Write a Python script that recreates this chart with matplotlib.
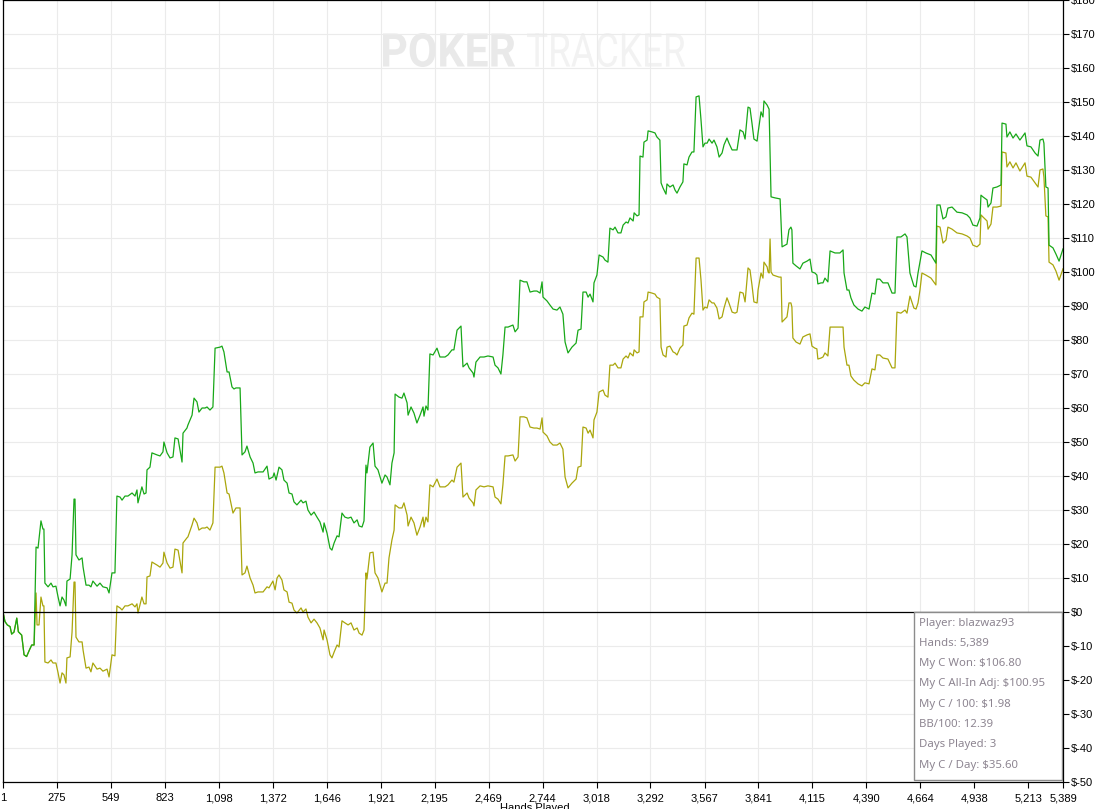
import matplotlib
matplotlib.use("Agg")
import matplotlib.pyplot as plt
from matplotlib.ticker import FuncFormatter
from matplotlib.patches import Rectangle, PathPatch
from matplotlib.textpath import TextPath
from matplotlib.font_manager import FontProperties
from matplotlib.transforms import Affine2D

# "My C Won" (green) - hand number, cumulative winnings in $
won_hands = [
    1, 11, 23, 37, 45, 57, 71, 79, 96, 108, 121, 135, 147, 159, 169, 179, 194, 204, 209, 214,
    230, 245, 255, 270, 281, 291, 301, 311, 321, 326, 342, 352, 362, 367, 372, 387, 403, 408, 423, 438,
    448, 458, 479, 494, 509, 530, 540, 555, 570, 580, 596, 606, 621, 636, 657, 672, 682, 687, 707, 718,
    728, 733, 748, 758, 784, 799, 814, 819, 835, 850, 865, 875, 891, 911, 916, 936, 941, 962, 972, 987,
    997, 1013, 1028, 1038, 1053, 1068, 1079, 1104, 1114, 1124, 1140, 1150, 1165, 1175, 1185, 1206, 1216, 1231, 1241, 1257,
    1272, 1282, 1297, 1307, 1323, 1343, 1353, 1373, 1379, 1389, 1404, 1419, 1429, 1445, 1455, 1470, 1480, 1495, 1516, 1526,
    1541, 1551, 1567, 1582, 1597, 1612, 1628, 1633, 1648, 1663, 1673, 1684, 1699, 1709, 1724, 1739, 1755, 1770, 1785, 1801,
    1811, 1826, 1836, 1846, 1851, 1866, 1882, 1892, 1907, 1927, 1943, 1953, 1968, 1978, 1989, 1994, 2014, 2029, 2039, 2055,
    2060, 2075, 2090, 2105, 2121, 2136, 2141, 2151, 2161, 2171, 2187, 2207, 2222, 2248, 2263, 2283, 2293, 2309, 2329, 2339,
    2360, 2370, 2390, 2395, 2405, 2426, 2446, 2466, 2492, 2502, 2517, 2532, 2542, 2553, 2568, 2593, 2604, 2619, 2629, 2649,
    2664, 2680, 2700, 2715, 2731, 2741, 2746, 2766, 2781, 2797, 2817, 2832, 2847, 2858, 2873, 2893, 2914, 2924, 2939, 2949,
    2965, 2975, 2985, 3000, 3005, 3020, 3031, 3051, 3061, 3076, 3086, 3102, 3112, 3127, 3142, 3153, 3168, 3178, 3188, 3204,
    3209, 3224, 3234, 3239, 3254, 3259, 3275, 3280, 3300, 3315, 3325, 3340, 3346, 3356, 3371, 3376, 3391, 3407, 3417, 3427,
    3442, 3457, 3462, 3478, 3488, 3503, 3513, 3524, 3539, 3549, 3559, 3569, 3580, 3590, 3605, 3615, 3630, 3641, 3656, 3666,
    3681, 3691, 3707, 3722, 3732, 3747, 3763, 3773, 3788, 3798, 3808, 3818, 3834, 3839, 3854, 3864, 3869, 3885, 3895, 3905,
    3925, 3951, 3961, 3976, 3986, 3996, 4006, 4011, 4016, 4032, 4052, 4067, 4088, 4103, 4113, 4128, 4138, 4143, 4159, 4169,
    4179, 4194, 4205, 4230, 4255, 4271, 4276, 4291, 4301, 4311, 4326, 4347, 4367, 4382, 4403, 4418, 4433, 4443, 4458, 4474,
    4499, 4520, 4535, 4545, 4565, 4586, 4596, 4611, 4631, 4642, 4652, 4672, 4692, 4718, 4743, 4748, 4764, 4779, 4794, 4804,
    4825, 4850, 4876, 4901, 4916, 4931, 4952, 4967, 4972, 4982, 5003, 5008, 5023, 5033, 5053, 5074, 5079, 5099, 5104, 5119,
    5135, 5150, 5170, 5196, 5206, 5226, 5247, 5262, 5272, 5287, 5292, 5302, 5313, 5318, 5338, 5353, 5369, 5389,
]
won_vals = [
    0.0, -2.8, -3.8, -4.3, -6.5, -5.9, -1.8, -5.8, -6.8, -12.6, -13.1, -11.2, -9.7, -9.7, 19.1, 18.8, 26.8, 24.4, 24.4, 8.5,
    7.4, 8.5, 7.4, 7.6, 4.4, 1.8, 4.4, 3.5, 1.8, 9.1, 9.7, 16.8, 33.2, 33.2, 16.8, 15.3, 15.9, 13.2, 7.9, 7.9,
    7.4, 9.1, 7.6, 8.5, 7.4, 7.1, 5.6, 11.5, 11.5, 34.1, 33.8, 32.9, 34.1, 34.1, 35.0, 34.1, 35.9, 32.1, 36.8, 34.7,
    35.0, 41.8, 42.6, 46.8, 46.2, 45.9, 47.1, 50.0, 46.8, 45.3, 45.6, 51.2, 50.9, 44.1, 52.6, 54.1, 55.0, 57.9, 62.9, 61.8,
    58.8, 60.0, 60.0, 60.3, 59.4, 60.3, 77.6, 77.9, 78.2, 76.5, 70.6, 70.6, 66.2, 65.6, 65.9, 65.9, 46.2, 47.1, 48.8, 45.6,
    43.8, 40.9, 41.2, 41.2, 41.2, 42.9, 39.1, 39.7, 40.9, 38.8, 42.6, 41.8, 38.8, 37.9, 35.0, 34.7, 32.4, 31.5, 32.9, 32.1,
    32.6, 30.0, 28.5, 29.4, 27.9, 26.5, 23.5, 26.2, 23.2, 18.8, 18.2, 20.3, 22.4, 22.1, 29.1, 27.9, 27.6, 27.9, 26.2, 27.1,
    25.3, 25.0, 26.8, 43.2, 40.9, 48.5, 49.7, 42.9, 41.8, 37.9, 40.3, 39.7, 37.4, 43.8, 46.8, 64.1, 63.2, 62.9, 64.4, 61.5,
    57.9, 60.3, 58.5, 55.6, 57.9, 60.3, 57.6, 60.6, 59.4, 75.9, 75.6, 77.6, 75.0, 75.0, 75.6, 77.1, 77.1, 82.9, 84.1, 72.1,
    73.2, 71.8, 70.3, 69.1, 73.5, 75.0, 75.0, 75.3, 75.0, 72.6, 71.8, 70.0, 75.6, 83.8, 83.8, 84.4, 82.4, 83.5, 97.6, 97.1,
    97.1, 94.1, 94.4, 94.4, 93.8, 97.1, 92.6, 91.5, 90.3, 89.1, 88.8, 89.7, 87.6, 79.4, 76.2, 77.9, 79.1, 82.9, 83.2, 94.1,
    94.1, 92.6, 93.5, 91.2, 96.8, 99.1, 105.0, 104.4, 103.5, 102.9, 112.9, 112.4, 113.2, 111.5, 111.5, 113.8, 114.7, 114.4, 115.9, 115.0,
    117.4, 116.5, 116.8, 134.1, 133.8, 138.2, 138.8, 141.5, 141.2, 140.9, 139.7, 138.8, 126.2, 124.7, 122.9, 125.9, 125.0, 125.6, 124.1, 123.2,
    125.0, 126.5, 131.8, 131.5, 133.8, 135.3, 135.3, 151.5, 151.8, 144.7, 136.8, 137.9, 137.9, 139.1, 137.9, 138.8, 136.8, 133.8, 135.0, 137.4,
    139.4, 137.9, 135.9, 135.9, 135.9, 141.8, 141.2, 139.1, 148.5, 148.2, 143.8, 139.1, 138.5, 140.9, 147.1, 145.6, 150.3, 149.1, 147.9, 122.1,
    121.8, 121.5, 107.4, 107.9, 108.2, 112.4, 113.2, 112.4, 102.6, 101.8, 100.9, 102.6, 103.2, 103.8, 100.0, 99.7, 99.1, 96.5, 96.8, 96.8,
    98.2, 97.1, 106.2, 105.6, 105.6, 106.5, 99.7, 94.7, 94.7, 92.4, 90.3, 89.1, 88.5, 89.7, 89.1, 93.8, 93.5, 97.9, 97.9, 96.8,
    96.8, 93.8, 93.8, 110.3, 110.3, 111.2, 110.3, 99.7, 95.9, 95.6, 99.7, 106.2, 105.6, 105.0, 102.6, 119.7, 119.7, 115.6, 116.2, 118.8,
    119.1, 117.6, 117.4, 116.8, 115.9, 113.8, 113.5, 115.9, 122.6, 122.1, 121.2, 119.1, 120.3, 124.7, 125.0, 125.6, 143.8, 143.5, 139.7, 141.2,
    139.4, 140.6, 138.8, 140.9, 137.1, 136.8, 135.0, 134.1, 138.8, 139.1, 137.9, 125.0, 124.7, 107.9, 107.1, 105.3, 103.2, 106.8,
]

# "My C All-In Adj" (olive) - hand number, all-in adjusted winnings in $
adj_hands = [
    1, 11, 23, 37, 45, 57, 71, 79, 96, 108, 121, 135, 147, 159, 169, 174, 184, 194, 204, 209,
    214, 230, 245, 255, 270, 281, 291, 301, 311, 321, 326, 342, 352, 362, 367, 372, 387, 403, 408, 423,
    438, 448, 458, 479, 494, 509, 530, 540, 555, 570, 580, 596, 606, 621, 636, 657, 672, 682, 687, 707,
    718, 728, 733, 748, 758, 784, 799, 814, 819, 835, 850, 865, 875, 891, 911, 916, 936, 941, 962, 972,
    987, 997, 1013, 1028, 1038, 1053, 1068, 1079, 1104, 1114, 1124, 1140, 1150, 1165, 1170, 1185, 1206, 1216, 1231, 1241,
    1257, 1272, 1282, 1297, 1307, 1323, 1343, 1353, 1373, 1384, 1394, 1404, 1419, 1429, 1445, 1455, 1470, 1480, 1495, 1516,
    1526, 1541, 1551, 1567, 1582, 1597, 1612, 1628, 1633, 1648, 1663, 1673, 1684, 1699, 1709, 1724, 1739, 1755, 1770, 1785,
    1801, 1811, 1826, 1836, 1846, 1851, 1866, 1882, 1892, 1907, 1927, 1943, 1953, 1963, 1978, 1989, 1994, 2014, 2029, 2039,
    2055, 2060, 2075, 2090, 2105, 2121, 2136, 2141, 2151, 2161, 2171, 2187, 2207, 2222, 2248, 2263, 2283, 2293, 2309, 2329,
    2339, 2360, 2370, 2390, 2395, 2405, 2426, 2446, 2466, 2492, 2502, 2517, 2532, 2542, 2553, 2568, 2593, 2604, 2619, 2629,
    2649, 2664, 2680, 2700, 2715, 2731, 2741, 2746, 2766, 2781, 2797, 2817, 2832, 2847, 2858, 2873, 2893, 2914, 2924, 2939,
    2949, 2965, 2975, 2985, 3000, 3005, 3020, 3031, 3051, 3061, 3076, 3086, 3102, 3112, 3127, 3142, 3153, 3168, 3178, 3188,
    3204, 3209, 3224, 3234, 3239, 3254, 3259, 3275, 3280, 3300, 3315, 3325, 3340, 3346, 3356, 3371, 3376, 3391, 3407, 3417,
    3427, 3442, 3457, 3462, 3478, 3488, 3503, 3513, 3524, 3539, 3549, 3559, 3569, 3580, 3590, 3605, 3615, 3630, 3641, 3656,
    3666, 3681, 3691, 3707, 3722, 3732, 3747, 3763, 3773, 3788, 3798, 3808, 3818, 3834, 3839, 3854, 3864, 3869, 3885, 3890,
    3895, 3900, 3905, 3915, 3946, 3956, 3961, 3976, 3986, 3996, 4006, 4011, 4016, 4032, 4052, 4067, 4088, 4103, 4113, 4128,
    4138, 4143, 4159, 4169, 4179, 4194, 4205, 4230, 4255, 4271, 4276, 4291, 4301, 4311, 4326, 4347, 4367, 4382, 4403, 4418,
    4433, 4443, 4458, 4474, 4499, 4520, 4535, 4545, 4565, 4586, 4596, 4611, 4631, 4642, 4652, 4662, 4672, 4692, 4718, 4743,
    4748, 4764, 4779, 4794, 4804, 4825, 4850, 4876, 4901, 4916, 4931, 4952, 4967, 4972, 4982, 5003, 5008, 5023, 5033, 5053,
    5074, 5079, 5099, 5104, 5119, 5135, 5150, 5170, 5196, 5206, 5226, 5247, 5262, 5272, 5287, 5292, 5302, 5313, 5318, 5338,
    5353, 5369, 5389,
]
adj_vals = [
    0.0, -2.8, -3.8, -4.3, -6.5, -5.9, -1.8, -5.8, -6.8, -12.6, -13.1, -11.2, -9.7, -9.7, 5.6, -3.8, -3.8, 4.4, 1.8, 1.8,
    -14.7, -15.0, -14.1, -15.0, -15.0, -17.9, -20.9, -17.9, -18.5, -20.9, -13.5, -13.2, -5.9, 8.8, 8.8, -7.4, -8.8, -8.8, -11.2, -16.5,
    -16.2, -17.6, -15.0, -16.8, -16.5, -17.4, -16.8, -19.1, -12.6, -12.9, 1.8, 1.2, 0.6, 1.8, 1.8, 2.4, 1.5, 2.4, -0.3, 4.4,
    2.4, 2.4, 10.3, 10.6, 14.7, 13.8, 13.2, 14.4, 17.6, 14.4, 12.9, 13.2, 18.5, 18.2, 11.5, 20.3, 21.8, 22.1, 25.6, 27.6,
    26.2, 24.1, 24.7, 24.7, 25.0, 24.1, 26.2, 42.6, 42.6, 42.9, 40.9, 35.0, 34.7, 30.6, 29.1, 30.6, 30.6, 10.9, 11.5, 13.5,
    10.0, 7.9, 5.6, 5.9, 5.9, 5.9, 7.4, 7.1, 9.1, 6.5, 10.0, 10.9, 9.4, 6.5, 5.9, 2.9, 2.6, 0.6, -0.3, 1.2,
    0.0, 0.9, -1.5, -3.2, -2.1, -3.2, -4.7, -8.2, -5.3, -8.2, -12.6, -13.5, -11.8, -9.7, -10.3, -2.6, -3.2, -3.8, -3.2, -5.3,
    -4.7, -6.2, -6.8, -5.3, 11.5, 9.7, 17.4, 17.6, 11.5, 10.0, 5.9, 8.5, 8.5, 15.9, 21.2, 24.1, 31.5, 30.6, 30.6, 32.1,
    28.5, 25.3, 27.9, 26.2, 22.6, 25.0, 27.9, 25.0, 27.9, 26.5, 37.4, 36.8, 39.1, 36.8, 36.8, 37.4, 38.8, 38.2, 42.6, 43.8,
    33.8, 35.0, 33.5, 32.1, 31.2, 35.9, 37.1, 36.8, 37.1, 36.8, 33.8, 33.2, 31.8, 37.4, 45.9, 45.9, 46.2, 44.4, 45.6, 57.4,
    57.4, 57.1, 54.4, 54.1, 54.1, 53.8, 57.1, 52.9, 51.8, 50.0, 49.1, 49.1, 49.7, 47.9, 39.7, 36.5, 37.9, 39.1, 42.6, 42.9,
    54.4, 54.1, 52.6, 53.5, 51.2, 56.5, 58.8, 64.7, 65.3, 63.8, 63.2, 72.6, 72.6, 73.2, 71.8, 71.8, 74.4, 75.3, 74.7, 76.2,
    75.3, 77.1, 76.2, 76.5, 86.8, 86.8, 91.2, 91.8, 94.1, 93.8, 93.5, 92.6, 92.1, 77.9, 75.6, 75.0, 77.9, 78.2, 76.5, 76.2,
    75.6, 77.6, 78.5, 84.1, 84.4, 86.5, 87.9, 87.6, 104.1, 104.1, 97.6, 88.8, 89.7, 89.4, 91.8, 90.9, 90.9, 89.4, 86.2, 86.8,
    89.4, 92.4, 90.9, 88.2, 87.9, 88.2, 94.1, 93.8, 91.2, 101.2, 100.6, 96.2, 91.2, 90.9, 94.7, 99.7, 98.2, 102.9, 101.5, 100.0,
    99.7, 109.7, 100.0, 99.1, 98.5, 98.5, 85.3, 86.2, 86.8, 90.9, 90.9, 89.7, 80.6, 79.4, 78.8, 80.9, 81.5, 81.8, 78.2, 77.6,
    77.4, 74.4, 74.7, 75.0, 76.2, 75.3, 83.8, 83.8, 83.8, 83.8, 77.9, 72.6, 72.6, 69.4, 68.2, 67.1, 66.5, 67.4, 67.1, 71.5,
    71.2, 75.6, 75.6, 74.7, 74.4, 71.8, 71.8, 88.2, 87.9, 88.8, 87.9, 92.9, 89.4, 89.1, 90.9, 94.7, 99.7, 99.1, 98.2, 96.2,
    113.5, 113.2, 108.5, 109.4, 113.2, 112.6, 111.5, 111.2, 110.6, 110.0, 107.9, 107.4, 108.2, 116.8, 116.2, 115.0, 112.6, 114.1, 119.1, 119.1,
    119.4, 135.3, 135.0, 130.9, 132.4, 130.6, 132.1, 129.7, 132.1, 128.2, 127.9, 126.2, 125.0, 130.0, 130.3, 127.9, 116.5, 116.2, 102.9, 102.1,
    100.3, 97.6, 100.95,
]

hand_ticks = [1, 275, 549, 823, 1098, 1372, 1646, 1921, 2195, 2469, 2744,
              3018, 3292, 3567, 3841, 4115, 4390, 4664, 4938, 5213, 5389]
dollar_ticks = list(range(-50, 181, 10))

stats_lines = [
    "Player: blazwaz93",
    "Hands: 5,389",
    "My C Won: $106.80",
    "My C All-In Adj: $100.95",
    "My C / 100: $1.98",
    "BB/100: 12.39",
    "Days Played: 3",
    "My C / Day: $35.60",
]


def fitted_text(ax, text, box, weight, color):
    # draw a text outline stretched into a pixel box (left, top, right, bottom)
    x0, y0, x1, y1 = box
    path = TextPath((0, 0), text, size=10, prop=FontProperties(family="Roboto", weight=weight))
    ext = path.get_extents()
    h = ax.figure.bbox.height
    tr = (Affine2D().translate(-ext.x0, -ext.y0)
          .scale((x1 - x0) / ext.width, (y1 - y0) / ext.height)
          .translate(x0, h - y1))
    ax.add_artist(PathPatch(path, transform=tr, facecolor=color, edgecolor="none", zorder=0.3))


def main():
    fig = plt.figure(figsize=(11.09, 8.09), dpi=100)
    ax = fig.add_axes([3 / 1109, 27 / 809, 1060 / 1109, 782 / 809])

    ax.set_xlim(1, 5389)
    ax.set_ylim(-50, 180)

    ax.set_xticks(hand_ticks)
    ax.set_xticklabels([f"{t:,}" for t in hand_ticks])
    ax.set_yticks(dollar_ticks)
    ax.yaxis.set_major_formatter(FuncFormatter(lambda v, p: f"${v:.0f}"))
    ax.yaxis.tick_right()

    ax.tick_params(axis="both", direction="out", length=4, width=0.8, labelsize=8,
                   colors="black")
    ax.tick_params(axis="x", pad=4)
    ax.tick_params(axis="y", pad=2)
    for lab in ax.get_xticklabels() + ax.get_yticklabels():
        lab.set_fontfamily("Liberation Sans")

    ax.grid(True, color="#ebebeb", lw=0.8, zorder=0.5)
    ax.set_axisbelow(True)
    for sp in ax.spines.values():
        sp.set_color("black")
        sp.set_linewidth(0.9)

    fitted_text(ax, "POKER", (383, 33, 515, 67), "bold", "#e9e9e9")
    fitted_text(ax, "TRACKER", (527, 33, 685, 67), "normal", "#f2f2f2")

    ax.plot(adj_hands, adj_vals, color="#aaa60c", lw=0.9, zorder=2)
    ax.plot(won_hands, won_vals, color="#18a818", lw=0.9, zorder=2.1)
    ax.axhline(0, color="black", lw=0.9, zorder=3)

    # stats box in the lower right corner
    ax.add_patch(Rectangle((0.8594, 0.0026), 0.1396, 0.2148, transform=ax.transAxes,
                           facecolor="white", edgecolor="#8c8c8c", lw=1.0, zorder=4))
    for i, line in enumerate(stats_lines):
        ax.text(0.8641, 0.2033 - i * 0.02596, line, transform=ax.transAxes,
                fontsize=8.2, family="Noto Sans", color="#8d8591", va="center",
                ha="left", zorder=5)

    fig.text(0.482, 6 / 809, "Hands Played", fontsize=8, family="Liberation Sans",
             ha="center", va="top")

    fig.savefig("out.png", dpi=100)


if __name__ == "__main__":
    main()
